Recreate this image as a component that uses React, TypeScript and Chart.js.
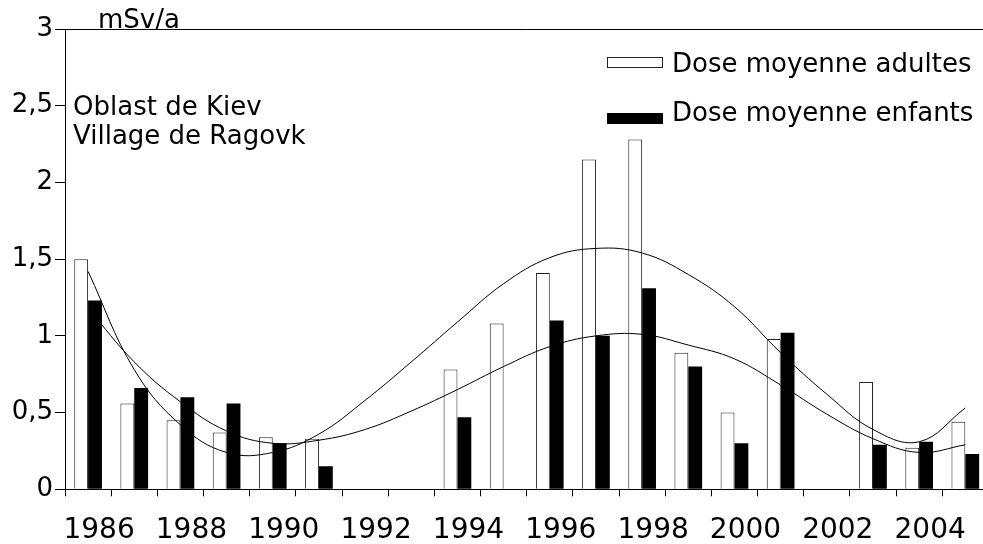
import React, { useEffect, useRef } from "react";
import { Chart, registerables } from "chart.js";

Chart.register(...registerables);

const years = [
  "1986", "1987", "1988", "1989", "1990", "1991", "1992", "1993", "1994", "1995",
  "1996", "1997", "1998", "1999", "2000", "2001", "2002", "2003", "2004", "2005",
];
const xTickLabels = [
  "1986", "", "1988", "", "1990", "", "1992", "", "1994", "",
  "1996", "", "1998", "", "2000", "", "2002", "", "2004", "",
];
const adults = [1.5, 0.56, 0.45, 0.37, 0.34, 0.33, null, null, 0.78, 1.08, 1.41, 2.15, 2.28, 0.89, 0.5, 0.98, null, 0.7, 0.27, 0.44];
const children = [1.23, 0.66, 0.6, 0.56, 0.3, 0.15, null, null, 0.47, null, 1.1, 1.0, 1.31, 0.8, 0.3, 1.02, null, 0.29, 0.31, 0.23];
const trendAdults = [1.42, 0.78, 0.42, 0.24, 0.24, 0.36, 0.58, 0.83, 1.09, 1.34, 1.51, 1.57, 1.54, 1.4, 1.19, 0.89, 0.62, 0.39, 0.31, 0.53];
const trendChildren = [1.18, 0.83, 0.57, 0.38, 0.3, 0.32, 0.39, 0.51, 0.65, 0.8, 0.93, 1.0, 1.01, 0.94, 0.85, 0.68, 0.49, 0.33, 0.24, 0.29];
const seriesNames = ["Dose moyenne adultes", "Dose moyenne enfants"];
const unitLabel = "mSv/a";
const noteLines = ["Oblast de Kiev", "Village de Ragovk"];

const FONT = '"DejaVu Sans", Verdana, sans-serif';

const textPlugin = {
  id: "textPlugin",
  afterDraw(chart: any) {
    const ctx = chart.ctx;
    ctx.save();
    ctx.font = `26px ${FONT}`;
    ctx.fillStyle = "#000";
    ctx.textBaseline = "alphabetic";
    ctx.textAlign = "left";
    ctx.fillText(unitLabel, 98, 28);
    ctx.fillText(noteLines[0], 73, 115);
    ctx.fillText(noteLines[1], 73, 144);
    // legend
    ctx.fillStyle = "#fff";
    ctx.fillRect(607, 57, 56, 11);
    ctx.strokeStyle = "#222";
    ctx.lineWidth = 1;
    ctx.strokeRect(607.5, 57.5, 55, 10);
    ctx.fillStyle = "#000";
    ctx.fillRect(607, 113, 56, 11);
    ctx.fillText(seriesNames[0], 672, 72);
    ctx.fillText(seriesNames[1], 672, 121);
    ctx.restore();
  },
};

export default function App() {
  const ref = useRef<HTMLCanvasElement>(null);
  useEffect(() => {
    if (!ref.current) return;
    const chart = new Chart(ref.current, {
      type: "bar",
      data: {
        labels: years,
        datasets: [
          {
            type: "line",
            label: "trend adults",
            data: trendAdults,
            borderColor: "#000",
            borderWidth: 1,
            pointRadius: 0,
            tension: 0.4,
            fill: false,
            order: 0,
          } as any,
          {
            type: "line",
            label: "trend children",
            data: trendChildren,
            borderColor: "#000",
            borderWidth: 1,
            pointRadius: 0,
            tension: 0.4,
            fill: false,
            order: 0,
          } as any,
          {
            type: "bar",
            label: seriesNames[0],
            data: adults,
            backgroundColor: "#fff",
            borderColor: "#222",
            borderWidth: 1,
            categoryPercentage: 0.6,
            barPercentage: 1.0,
            order: 1,
          },
          {
            type: "bar",
            label: seriesNames[1],
            data: children,
            backgroundColor: "#000",
            borderColor: "#000",
            borderWidth: 0,
            categoryPercentage: 0.6,
            barPercentage: 1.0,
            order: 1,
          },
        ],
      },
      options: {
        responsive: false,
        animation: false,
        devicePixelRatio: 1,
        layout: { padding: { top: 29, right: 11.6, left: 0, bottom: 0 } },
        plugins: { legend: { display: false }, tooltip: { enabled: false } },
        scales: {
          x: {
            afterFit: (s: any) => {
              s.height = 54.7;
            },
            grid: {
              offset: true,
              drawOnChartArea: false,
              drawTicks: true,
              tickLength: 7,
              tickColor: "#000",
              color: "#000",
            },
            border: { display: true, color: "#000", width: 1 },
            ticks: {
              autoSkip: false,
              maxRotation: 0,
              minRotation: 0,
              labelOffset: 11,
              padding: 18,
              color: "#000",
              font: { family: FONT, size: 28 },
              callback: (_v: any, i: number) => xTickLabels[i],
            },
          },
          y: {
            min: 0,
            max: 3,
            afterFit: (s: any) => {
              s.width = 65;
            },
            grid: {
              drawOnChartArea: true,
              color: (c: any) => (c.tick && c.tick.value === 3 ? "#000" : "rgba(0,0,0,0)"),
              tickColor: "#000",
              tickLength: 10,
              lineWidth: 1,
            },
            border: { display: true, color: "#000", width: 1 },
            ticks: {
              stepSize: 0.5,
              padding: 2,
              color: "#000",
              font: { family: FONT, size: 26 },
              callback: (v: any) => String(v).replace(".", ","),
            },
          },
        },
      },
      plugins: [textPlugin],
    });
    return () => chart.destroy();
  }, []);
  return (
    <div
      style={{
        position: "fixed",
        left: 0,
        top: 0,
        width: 983,
        height: 544,
        overflow: "hidden",
        background: "#fff",
      }}
    >
      <canvas ref={ref} width={1000} height={544} style={{ display: "block" }} />
    </div>
  );
}
